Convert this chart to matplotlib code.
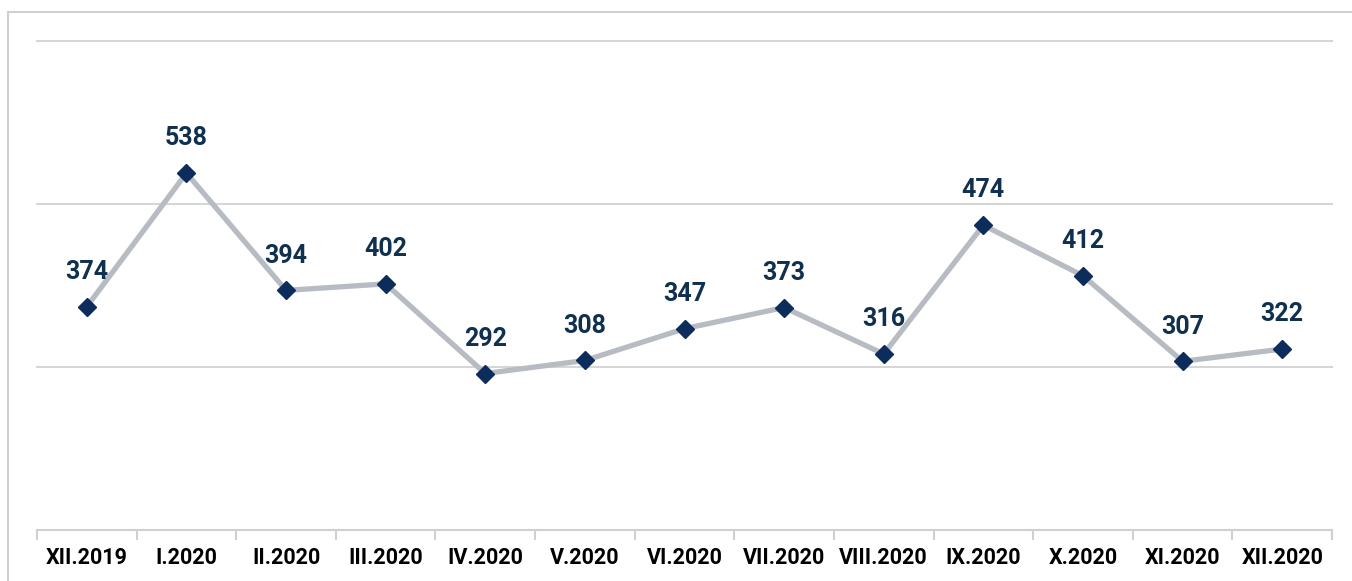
import numpy as np
import matplotlib.pyplot as plt
from matplotlib.lines import Line2D

months = ["XII.2019", "I.2020", "II.2020", "III.2020", "IV.2020", "V.2020", "VI.2020",
          "VII.2020", "VIII.2020", "IX.2020", "X.2020", "XI.2020", "XII.2020"]
values = [374, 538, 394, 402, 292, 308, 347, 373, 316, 474, 412, 307, 322]
grid_levels = [300, 500, 700]

plt.rcParams['font.family'] = ['Roboto', 'DejaVu Sans']

fig = plt.figure(figsize=(13.52, 5.81), dpi=100)
ax = fig.add_axes([37 / 1352, 1 - 530 / 581, (1332 - 37) / 1352, (530 - 41) / 581])

x = np.arange(len(months))
ax.plot(x, values, color='#b7bbc2', lw=3.8, zorder=2)
ax.plot(x, values, ls='none', marker='D', ms=9, color='#0c2d5c', zorder=3)

for xi, v in zip(x, values):
    ax.annotate(str(v), (xi, v), xytext=(0, 25), textcoords='offset points',
                ha='center', va='center', fontsize=18, fontweight='bold', color='#10304f')

ax.set_xlim(-0.5, len(months) - 0.5)
ax.set_ylim(100, 700)
for g in grid_levels:
    ax.axhline(g, color='#d6d6d6', lw=1.5, zorder=1, clip_on=False)

for s in ['top', 'right', 'left']:
    ax.spines[s].set_visible(False)
ax.spines['bottom'].set_color('#d0d0d0')
ax.spines['bottom'].set_linewidth(1.5)

ax.set_yticks([])
ax.set_xticks(x)
ax.set_xticklabels(months, fontsize=15.5, fontweight='bold', color='black')
ax.tick_params(axis='x', which='major', length=0, pad=12)
ax.set_xticks(np.arange(len(months) + 1) - 0.5, minor=True)
ax.tick_params(axis='x', which='minor', length=7, width=1.5, color='#d0d0d0')

# outer frame (top and left edges)
fig.add_artist(Line2D([8 / 1352, 1], [1 - 12 / 581] * 2, color='#d0d0d0', lw=1.5, transform=fig.transFigure))
fig.add_artist(Line2D([8 / 1352] * 2, [0, 1 - 12 / 581], color='#d0d0d0', lw=1.5, transform=fig.transFigure))

fig.savefig('out.png', dpi=100)
